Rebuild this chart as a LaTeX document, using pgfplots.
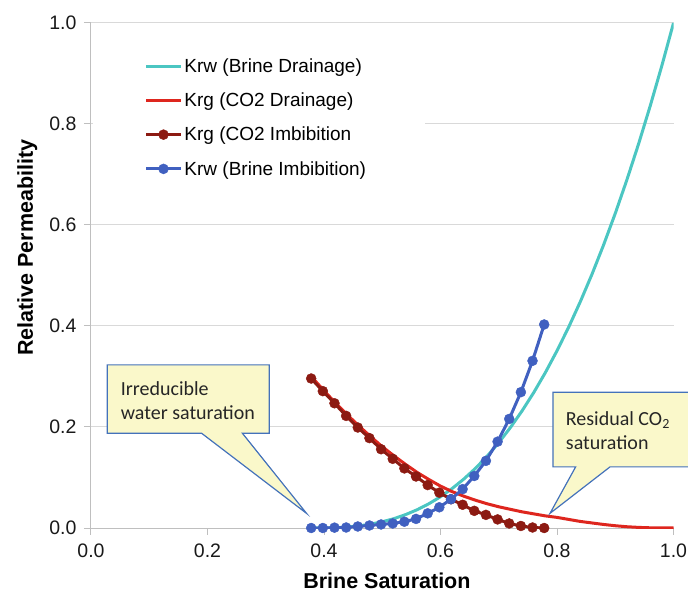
\documentclass[border=0pt]{standalone}
\usepackage{fontspec}
\setmainfont{Liberation Sans}
\newfontfamily\calibri{Carlito}
\usepackage{pgfplots}
\pgfplotsset{compat=1.18}
\definecolor{cyanK}{RGB}{75,198,194}
\definecolor{redD}{RGB}{222,38,30}
\definecolor{darkR}{RGB}{140,26,18}
\definecolor{blueI}{RGB}{64,96,192}
\definecolor{gridg}{RGB}{217,217,217}
\definecolor{axisg}{RGB}{191,191,191}
\definecolor{callfill}{RGB}{250,248,202}
\definecolor{callbord}{RGB}{68,114,186}
\begin{document}
\begin{tikzpicture}
\begin{axis}[
  scale only axis, width=582.5bp, height=505bp,
  xmin=0, xmax=1, ymin=0, ymax=1,
  axis lines*=left,
  axis line style={axisg, line width=1bp},
  xtick={0,0.2,0.4,0.6,0.8,1}, ytick={0,0.2,0.4,0.6,0.8,1},
  tick align=outside, major tick length=7bp,
  tick style={axisg, line width=1bp},
  ymajorgrids, grid style={gridg, line width=1bp},
  /pgf/number format/fixed, /pgf/number format/fixed zerofill,
  /pgf/number format/precision=1, /pgf/number format/assume math mode=true,
  ticklabel style={font=\fontsize{19.5bp}{22bp}\selectfont, text=black!90},
  yticklabel style={xshift=-4bp},
  xticklabel style={yshift=-5bp},
  xlabel={Brine Saturation}, ylabel={Relative Permeability},
  label style={font=\bfseries\fontsize{21.5bp}{24bp}\selectfont},
  xlabel style={at={(axis description cs:0.508,-0.119)}, anchor=base},
  ylabel style={at={(axis description cs:-0.0996,0.555)}, anchor=base},
  clip mode=individual,
  legend cell align=left,
  legend style={draw=none, fill=none, at={(axis description cs:0.0915,0.934)},
    anchor=north west, inner sep=0pt, row sep=15bp, column sep=0bp,
    font=\fontsize{19bp}{22bp}\selectfont},
  every axis plot/.append style={legend image code/.code={
    \draw[mark repeat=2,mark phase=2,#1] plot coordinates {(0bp,0bp) (17.5bp,0bp) (35bp,0bp)};}},
]
\fill[white] (axis cs:0.0034,0.669) rectangle (axis cs:0.573,0.956);

\addplot[cyanK, line width=3bp] coordinates {
(0.378,0) (0.40,0.0001) (0.42,0.0007) (0.44,0.0020) (0.46,0.0042) (0.48,0.0076)
(0.50,0.0123) (0.52,0.0185) (0.54,0.0265) (0.56,0.0362) (0.58,0.0480) (0.60,0.0619)
(0.62,0.0782) (0.64,0.0969) (0.66,0.1181) (0.68,0.1421) (0.70,0.1690) (0.72,0.1989)
(0.74,0.2319) (0.76,0.2681) (0.78,0.3077) (0.80,0.3510) (0.82,0.3976) (0.84,0.4481)
(0.86,0.5023) (0.88,0.5606) (0.90,0.6229) (0.92,0.6895) (0.94,0.7604) (0.96,0.8357)
(0.98,0.9155) (1.00,1.0)};
\addlegendentry{Krw (Brine Drainage)}

\addplot[redD, line width=3bp] coordinates {
(0.378,0.300) (0.40,0.272) (0.42,0.247) (0.44,0.224) (0.46,0.202) (0.48,0.181)
(0.50,0.161) (0.52,0.143) (0.54,0.126) (0.56,0.110) (0.58,0.096) (0.60,0.083)
(0.62,0.072) (0.64,0.063) (0.66,0.055) (0.68,0.048) (0.70,0.042) (0.72,0.037)
(0.74,0.032) (0.76,0.028) (0.78,0.024) (0.80,0.021) (0.82,0.017) (0.84,0.013)
(0.86,0.010) (0.88,0.007) (0.90,0.0045) (0.92,0.0025) (0.94,0.0012) (0.96,0.0004)
(0.98,0.0001) (1.00,0)};
\addlegendentry{Krg (CO2 Drainage)}

\addplot[darkR, line width=3bp, mark=*, mark size=5bp,
  mark options={solid, fill=darkR, draw=darkR, line width=0.4bp}] coordinates {
(0.378,0.296) (0.398,0.271) (0.418,0.247) (0.438,0.222) (0.458,0.199) (0.478,0.178)
(0.498,0.156) (0.518,0.137) (0.538,0.118) (0.558,0.102) (0.578,0.085) (0.598,0.070)
(0.618,0.057) (0.638,0.046) (0.658,0.034) (0.678,0.026) (0.698,0.017) (0.718,0.009)
(0.738,0.004) (0.758,0.001) (0.778,0.0)};
\addlegendentry{Krg (CO2 Imbibition}

\addplot[blueI, line width=3bp, mark=*, mark size=5bp,
  mark options={solid, fill=blueI, draw=blueI, line width=0.4bp}] coordinates {
(0.378,0) (0.398,0) (0.418,0.0007) (0.438,0.001) (0.458,0.003) (0.478,0.005)
(0.498,0.007) (0.518,0.009) (0.538,0.0125) (0.558,0.018) (0.578,0.029) (0.598,0.041)
(0.618,0.057) (0.638,0.077) (0.658,0.103) (0.678,0.133) (0.698,0.171) (0.718,0.216)
(0.738,0.269) (0.758,0.331) (0.778,0.403)};
\addlegendentry{Krw (Brine Imbibition)}

\filldraw[fill=callfill, draw=callbord, line width=1.2bp, line join=miter]
  (axis cs:0.028,0.323) -- (axis cs:0.306,0.323) -- (axis cs:0.306,0.1875)
  -- (axis cs:0.260,0.1875) -- (axis cs:0.370,0.029) -- (axis cs:0.190,0.1875)
  -- (axis cs:0.028,0.1875) -- cycle;
\node[anchor=west, align=left, inner sep=0pt, text=black!85,
  font=\calibri\fontsize{20bp}{23.7bp}\selectfont] at (axis cs:0.051,0.2517)
  {Irreducible\\water saturation};

\fill[callfill] (axis cs:1.0249,0.269) -- (axis cs:0.793,0.269) -- (axis cs:0.793,0.121)
  -- (axis cs:0.832,0.121) -- (axis cs:0.788,0.029) -- (axis cs:0.891,0.121)
  -- (axis cs:1.0249,0.121) -- cycle;
\draw[callbord, line width=1.2bp, line join=miter]
  (axis cs:1.03,0.269) -- (axis cs:0.793,0.269) -- (axis cs:0.793,0.121)
  -- (axis cs:0.832,0.121) -- (axis cs:0.788,0.029) -- (axis cs:0.891,0.121)
  -- (axis cs:1.03,0.121);
\node[anchor=west, align=left, inner sep=0pt, text=black!85,
  font=\calibri\fontsize{20bp}{23.7bp}\selectfont] at (axis cs:0.815,0.1935)
  {Residual CO\textsubscript{2}\\saturation};
\end{axis}
\pgfresetboundingbox
\path[use as bounding box] (-91bp,-64bp) rectangle (597bp,528bp);
\end{tikzpicture}
\end{document}
